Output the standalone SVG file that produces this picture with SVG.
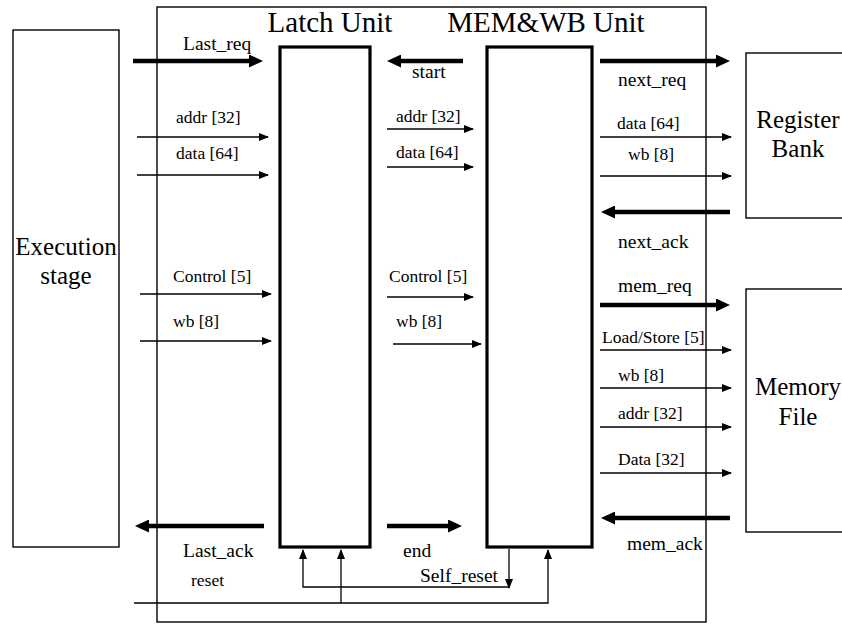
<svg xmlns="http://www.w3.org/2000/svg" width="842" height="624" viewBox="0 0 842 624" font-family="Liberation Serif, Times New Roman, serif">
<style>
.box{fill:#fff;stroke:#000;stroke-width:1.4}
.unit{fill:#fff;stroke:#000;stroke-width:3.2}
.thin{fill:none;stroke:#000;stroke-width:1.3;marker-end:url(#ah)}
.thick{fill:none;stroke:#000;stroke-width:4.5;marker-end:url(#AH)}
.big{font-size:25px}
.title{font-size:29px}
.lb{font-size:19.5px}
.ls{font-size:17.5px}
</style>
<defs>
<marker id="ah" markerUnits="userSpaceOnUse" markerWidth="10" markerHeight="8" refX="9" refY="4" orient="auto"><path d="M0,0 L10,4 L0,8 z" fill="#000"/></marker>
<marker id="AH" markerUnits="userSpaceOnUse" markerWidth="14" markerHeight="13" refX="2" refY="6.5" orient="auto"><path d="M0,0 L14,6.5 L0,13 z" fill="#000"/></marker>
</defs>
<g id="outer"><rect class="box" x="157" y="7" width="549" height="615"/></g>
<g id="execution"><rect class="box" x="13" y="30" width="106" height="517"/><text class="big" x="66" y="255" text-anchor="middle">Execution</text><text class="big" x="66" y="284" text-anchor="middle">stage</text></g>
<g id="latch"><rect class="unit" x="280" y="47" width="90" height="500"/><text class="title" x="330" y="32" text-anchor="middle">Latch Unit</text></g>
<g id="memwb"><rect class="unit" x="487" y="47" width="105" height="500"/><text class="title" x="546" y="32" text-anchor="middle">MEM&amp;WB Unit</text></g>
<g id="regbank"><rect class="box" x="746" y="53" width="110" height="165"/><text class="big" x="798" y="128" text-anchor="middle">Register</text><text class="big" x="798" y="157" text-anchor="middle">Bank</text></g>
<g id="memfile"><rect class="box" x="746" y="289" width="110" height="243"/><text class="big" x="798" y="395" text-anchor="middle">Memory</text><text class="big" x="798" y="425" text-anchor="middle">File</text></g>
<g id="connectors">
<line class="thick" x1="133" y1="61" x2="251" y2="61"/>
<line class="thin" x1="137" y1="137" x2="268" y2="137"/>
<line class="thin" x1="137" y1="175" x2="268" y2="175"/>
<line class="thin" x1="140" y1="294" x2="271" y2="294"/>
<line class="thin" x1="140" y1="341" x2="271" y2="341"/>
<line class="thick" x1="463" y1="61" x2="399" y2="61"/>
<line class="thin" x1="387" y1="129" x2="473" y2="129"/>
<line class="thin" x1="387" y1="167" x2="473" y2="167"/>
<line class="thin" x1="387" y1="297" x2="473" y2="297"/>
<line class="thin" x1="393" y1="344" x2="481" y2="344"/>
<line class="thick" x1="600" y1="61" x2="718" y2="61"/>
<line class="thin" x1="600" y1="137" x2="731" y2="137"/>
<line class="thin" x1="600" y1="176" x2="731" y2="176"/>
<line class="thick" x1="730" y1="212" x2="613" y2="212"/>
<line class="thick" x1="600" y1="305" x2="718" y2="305"/>
<line class="thin" x1="600" y1="350" x2="731" y2="350"/>
<line class="thin" x1="600" y1="388" x2="731" y2="388"/>
<line class="thin" x1="600" y1="427" x2="731" y2="427"/>
<line class="thin" x1="600" y1="473" x2="731" y2="473"/>
<line class="thick" x1="730" y1="518" x2="613" y2="518"/>
<line class="thick" x1="264" y1="526" x2="147" y2="526"/>
<line class="thick" x1="387" y1="526" x2="450" y2="526"/>
<path class="thin" d="M134,603 H548 V550"/>
<path class="thin" d="M341,603 V550"/>
<path class="thin" d="M509,549 V588"/>
<path class="thin" d="M509,587 H303 V550"/>
</g>
<g id="labels">
<text class="lb" x="183" y="50">Last_req</text>
<text class="ls" x="176" y="123">addr [32]</text>
<text class="ls" x="176" y="159">data [64]</text>
<text class="ls" x="173" y="282">Control [5]</text>
<text class="ls" x="173" y="327">wb [8]</text>
<text class="lb" x="412" y="78">start</text>
<text class="ls" x="396" y="122">addr [32]</text>
<text class="ls" x="396" y="158">data [64]</text>
<text class="ls" x="389" y="282">Control [5]</text>
<text class="ls" x="396" y="327">wb [8]</text>
<text class="lb" x="618" y="86">next_req</text>
<text class="ls" x="617" y="129">data [64]</text>
<text class="ls" x="628" y="160">wb [8]</text>
<text class="lb" x="618" y="248">next_ack</text>
<text class="lb" x="618" y="292">mem_req</text>
<text class="ls" x="602" y="343">Load/Store [5]</text>
<text class="ls" x="618" y="381">wb [8]</text>
<text class="ls" x="618" y="419">addr [32]</text>
<text class="ls" x="618" y="465">Data [32]</text>
<text class="lb" x="627" y="550">mem_ack</text>
<text class="lb" x="183" y="557">Last_ack</text>
<text class="lb" x="403" y="557">end</text>
<text class="ls" x="191" y="586">reset</text>
<text class="lb" x="420" y="582">Self_reset</text>
</g>
</svg>
